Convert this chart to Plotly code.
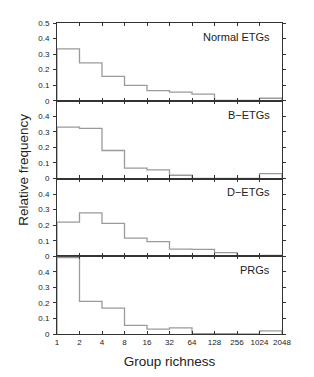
import plotly.graph_objects as go
from plotly.subplots import make_subplots

tick_labels = ["1", "2", "4", "8", "16", "32", "64", "128", "256", "1024", "2048"]
bin_edges = list(range(len(tick_labels)))

panel_names = ["Normal ETGs", "B\u2212ETGs", "D\u2212ETGs", "PRGs"]
normal_etgs = [0.333, 0.244, 0.157, 0.099, 0.065, 0.056, 0.042, 0.002, 0.003, 0.016]
b_etgs = [0.330, 0.322, 0.180, 0.067, 0.055, 0.021, 0.0, 0.0, 0.0, 0.031]
d_etgs = [0.219, 0.279, 0.212, 0.116, 0.094, 0.046, 0.044, 0.023, 0.002, 0.006]
prgs = [0.492, 0.210, 0.166, 0.056, 0.031, 0.039, 0.003, 0.003, 0.0, 0.020]
series = [normal_etgs, b_etgs, d_etgs, prgs]

fig = make_subplots(rows=4, cols=1, shared_xaxes=True, vertical_spacing=0)

font = "Liberation Sans, Arial, sans-serif"
for i, vals in enumerate(series):
    r = i + 1
    xs = [bin_edges[0]] + bin_edges[:-1] + [bin_edges[-1]]
    ys = [0] + vals + [0]
    fig.add_trace(go.Scatter(x=xs, y=ys, mode="lines", line=dict(shape="hv", color="#9a9a9a", width=1.3),
                             showlegend=False, hoverinfo="skip"), row=r, col=1)
    fig.add_annotation(text=panel_names[i], x=0.955, y=0.82, xref="x domain" if r == 1 else f"x{r} domain",
                       yref="y domain" if r == 1 else f"y{r} domain", showarrow=False,
                       xanchor="right", yanchor="middle", font=dict(size=11, color="#222", family=font))
    yt = [0, 0.1, 0.2, 0.3, 0.4, 0.5] if r == 1 else [0, 0.1, 0.2, 0.3, 0.4]
    fig.update_yaxes(range=[0, 0.5], tickvals=yt, ticktext=[("%g" % v) for v in yt],
                     ticks="outside", ticklen=3, tickcolor="#333", mirror="ticks", showline=True,
                     linecolor="#333", linewidth=1, showgrid=False, zeroline=False,
                     ticklabelstandoff=2,
                     tickfont=dict(size=8, color="#222", family=font), row=r, col=1)
    fig.update_xaxes(range=[bin_edges[0], bin_edges[-1]], tickvals=bin_edges, ticktext=tick_labels,
                     ticks="inside", ticklen=3, tickcolor="#333", mirror="ticks", showline=True,
                     linecolor="#333", linewidth=1.3, showgrid=False, zeroline=False,
                     showticklabels=(r == 4), tickfont=dict(size=8, color="#222", family=font),
                     row=r, col=1)

fig.update_xaxes(title=dict(text="Group richness", font=dict(size=13.5, color="#222", family=font), standoff=10),
                 row=4, col=1)

fig.add_annotation(text="Relative frequency", x=-0.147, y=0.528, xref="paper", yref="paper", showarrow=False,
                   textangle=-90, xanchor="center", yanchor="middle",
                   font=dict(size=13.5, color="#222", family=font))

# page body has an 8px default margin, so the figure is sized/offset to compensate
fig.update_layout(width=306, height=369, margin=dict(l=49, r=32, t=11, b=38),
                  paper_bgcolor="white", plot_bgcolor="white", font=dict(family=font))
fig.write_html("out.html")
